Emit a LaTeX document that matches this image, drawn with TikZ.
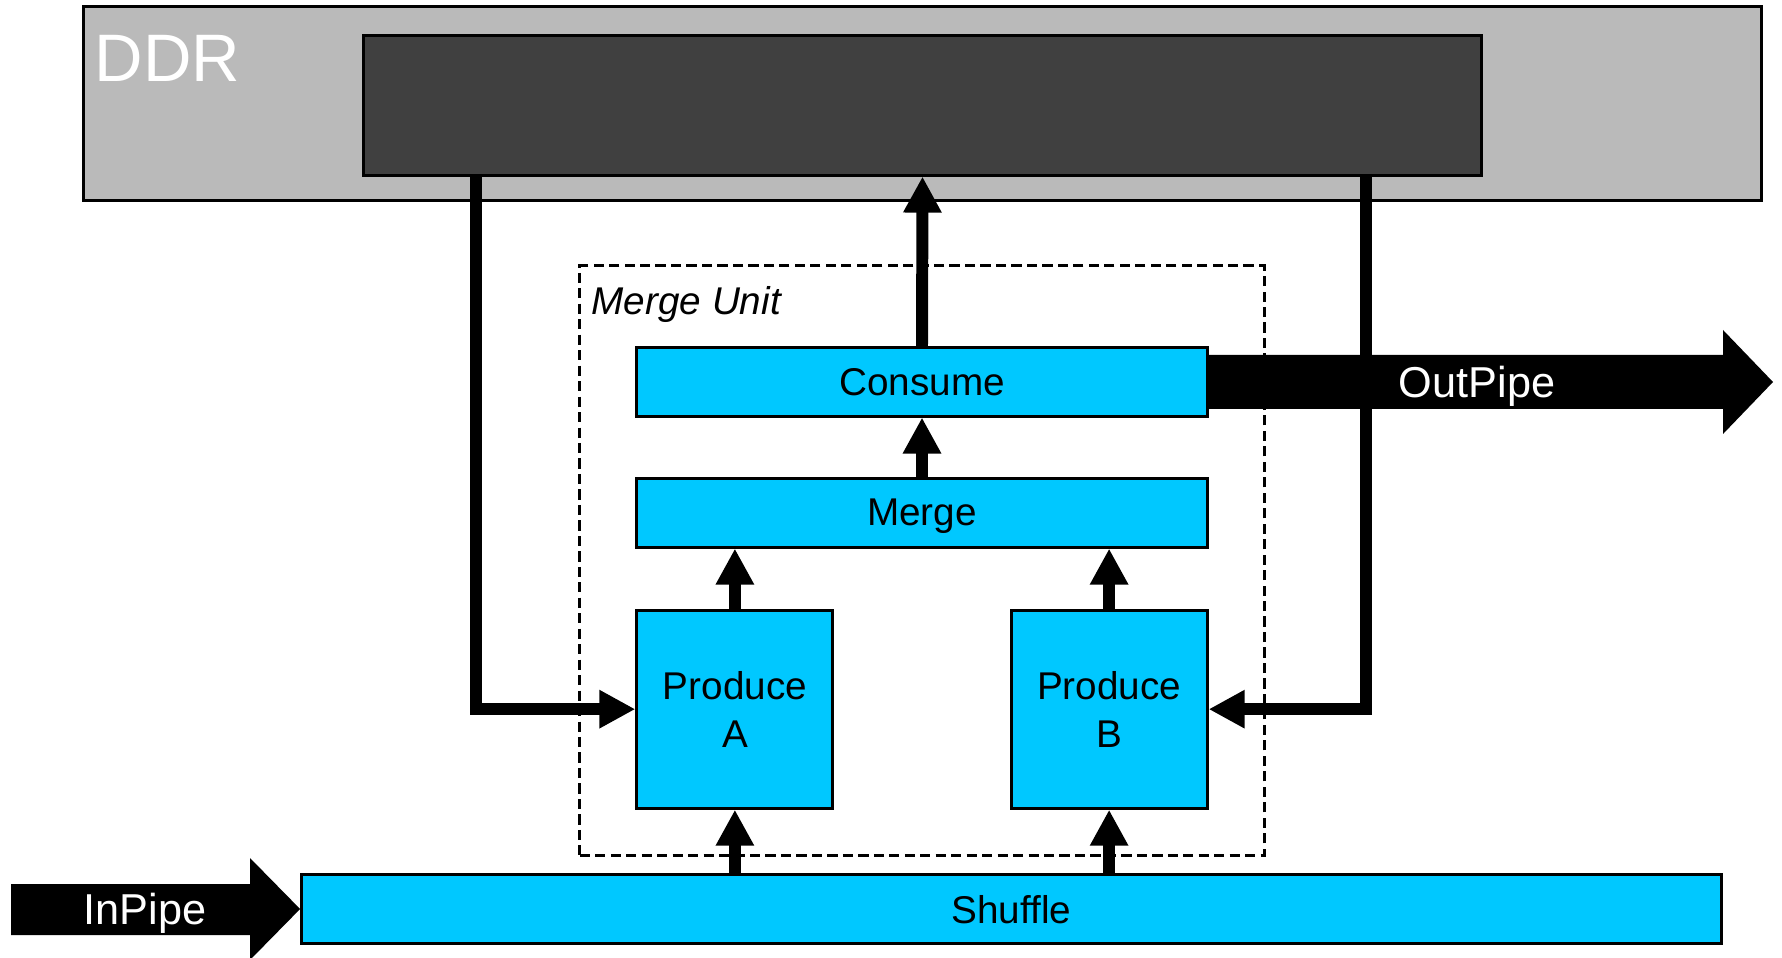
\documentclass[tikz,border=0pt]{standalone}
\usepackage{fontspec}
\setmainfont{Liberation Sans}
\usepackage{xcolor}
\usepackage{tikz}
\usetikzlibrary{arrows.meta,positioning}

\definecolor{unitblue}{RGB}{0,200,255}
\definecolor{ddrgray}{RGB}{186,186,186}
\definecolor{bankgray}{RGB}{64,64,64}

\begin{document}
\begin{tikzpicture}[x=0.01cm,y=-0.01cm,
                    unit/.style={draw,fill=unitblue,line width=0.85pt,inner sep=0pt,
                                 align=center,text depth=0pt,font=\fontsize{11}{13.7}\selectfont},
                    flow/.style={line width=3.4pt,-{Triangle[length=3.6mm,width=3.6mm]}},
                    pipe/.style={fill=black},
                    pipe label/.style={text=white,inner sep=0pt,text depth=0pt,
                                       font=\fontsize{12.3}{14}\selectfont}]

    \useasboundingbox (0,0) rectangle (1782,958);

    % DDR and its memory block
    \node[draw,fill=ddrgray,line width=0.85pt,minimum width=16.77cm,minimum height=1.93cm] (ddr) at (922.5,103.5) {};
    \node[draw,fill=bankgray,line width=0.85pt,minimum width=11.17cm,minimum height=1.39cm] (mem) at (922.5,105.5) {};
    \node[text=white,anchor=base west,inner sep=0pt,font=\fontsize{19.1}{20}\selectfont] (ddrlabel) at (94,82) {DDR};

    % merge unit
    \node[draw,dash pattern=on 2.9pt off 1.5pt,line width=0.85pt,minimum width=6.84cm,minimum height=5.89cm] (mu) at (922,560.5) {};
    \node[anchor=base west,inner sep=0pt,font=\fontsize{11}{13.7}\selectfont\itshape] (mulabel) at (591,315) {Merge Unit};

    \node[unit,minimum width=5.70cm,minimum height=0.68cm] (consume) at (922,382) {Consume};
    \node[unit,minimum width=5.70cm,minimum height=0.69cm,below=0.59cm of consume] (merge) {Merge};
    \node[unit,minimum width=1.96cm,minimum height=1.98cm,below=0.60cm of merge.south west,anchor=north west] (proda) {Produce\\A};
    \node[unit,minimum width=1.96cm,minimum height=1.98cm,below=0.60cm of merge.south east,anchor=north east] (prodb) {Produce\\B};
    \node[unit,minimum width=14.19cm,minimum height=0.68cm] (shuffle) at (1011.5,909) {Shuffle};

    % data flow
    \draw[flow] ([xshift=1.14cm]mem.south west) |- (proda.west);
    \draw[flow] ([xshift=-1.17cm]mem.south east) |- (prodb.east);
    \draw[flow] (consume.north) -- (mem.south);
    \draw[flow] (merge.north) -- (consume.south);
    \draw[flow] (proda.north) -- (proda.north |- merge.south);
    \draw[flow] (prodb.north) -- (prodb.north |- merge.south);
    \draw[flow] (proda.south |- shuffle.north) -- (proda.south);
    \draw[flow] (prodb.south |- shuffle.north) -- (prodb.south);

    % pipes
    \fill[pipe] (11,884) -- (250,884) -- (250,858) -- (shuffle.west) -- (250,960) -- (250,935) -- (11,935) -- cycle;
    \node[pipe label] (inpipe) at (145,909) {InPipe};
    \fill[pipe] (consume.east |- 0,355) -- (1723,355) -- (1723,330) -- (1773,382) -- (1723,434) -- (1723,409) -- (consume.east |- 0,409) -- cycle;
    \node[pipe label] (outpipe) at (1477,382) {OutPipe};
\end{tikzpicture}
\end{document}
